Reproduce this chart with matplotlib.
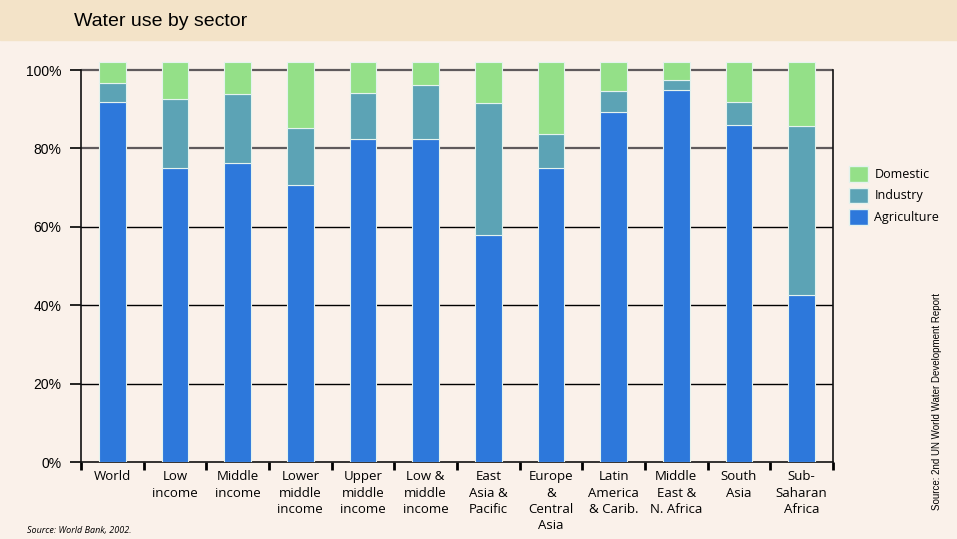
import matplotlib.pyplot as plt
from matplotlib.patches import Patch
import numpy as np

categories = ["World", "Low\nincome", "Middle\nincome", "Lower\nmiddle\nincome",
              "Upper\nmiddle\nincome", "Low &\nmiddle\nincome", "East\nAsia &\nPacific",
              "Europe\n&\nCentral\nAsia", "Latin\nAmerica\n& Carib.", "Middle\nEast &\nN. Africa",
              "South\nAsia", "Sub-\nSaharan\nAfrica"]

# cumulative tops (bars run slightly above 100%)
agriculture = [91.8, 75.0, 76.3, 70.7, 82.4, 82.4, 57.9, 75.0, 89.2, 95.0, 86.0, 42.6]
industry_top = [96.7, 92.5, 93.9, 85.2, 94.2, 96.3, 91.5, 83.8, 94.6, 97.4, 91.8, 85.6]
total_top = [102.0] * 12

industry = [t - a for t, a in zip(industry_top, agriculture)]
domestic = [t - i for t, i in zip(total_top, industry_top)]

c_agr = "#2d78db"
c_ind = "#5ca3b5"
c_dom = "#94e088"
bg = "#faf1ea"
banner = "#f3e3c8"

fig = plt.figure(figsize=(9.57, 5.39), dpi=100, facecolor=bg)
fig.patches.append(plt.Rectangle((0, 1 - 40 / 539), 1, 40 / 539, transform=fig.transFigure,
                                 color=banner, zorder=0))
fig.text(74 / 957, 1 - 21 / 539, "Water use by sector", fontsize=14,
         family="Liberation Sans", va="center", ha="left")

ymax = 102.6
bottom_px, top_px = 462, 462 - ymax * 3.92
ax = fig.add_axes([81 / 957, (539 - bottom_px) / 539, (833 - 81) / 957, (bottom_px - top_px) / 539])
ax.set_facecolor(bg)

x = np.arange(len(categories))
w = 0.43
edge = dict(edgecolor="#e4f3ee", linewidth=0.8, zorder=3)
ax.bar(x, agriculture, w, color=c_agr, **edge)
ax.bar(x, industry, w, bottom=agriculture, color=c_ind, **edge)
ax.bar(x, domestic, w, bottom=industry_top, color=c_dom, **edge)

for yv in [20, 40, 60]:
    ax.axhline(yv, color="black", lw=1.0, zorder=1)
for yv in [80, 100]:
    ax.axhline(yv, color="#5f5a5c", lw=1.6, zorder=1)

ax.set_xlim(-0.5, len(categories) - 0.5)
ax.set_ylim(0, ymax)
ax.spines["top"].set_visible(False)
ax.spines["left"].set_bounds(0, 100)
ax.spines["right"].set_bounds(0, 100)
for s in ["left", "right", "bottom"]:
    ax.spines[s].set_linewidth(1.2)
    ax.spines[s].set_color("#111111")

ax.set_yticks([0, 20, 40, 60, 80, 100])
ax.set_yticklabels(["0%", "20%", "40%", "60%", "80%", "100%"], family="Liberation Sans", fontsize=10)
ax.tick_params(axis="y", length=8, width=1.2, pad=6)

ax.set_xticks(x)
ax.set_xticklabels(categories, family="Open Sans", fontsize=9.5, linespacing=1.32)
ax.set_xticks(np.arange(-0.5, len(categories)), minor=True)
ax.tick_params(axis="x", which="major", length=0, pad=6)
ax.tick_params(axis="x", which="minor", length=6, width=2)

handles = [Patch(facecolor=c_dom, edgecolor="#e4f3ee"), Patch(facecolor=c_ind, edgecolor="#e4f3ee"),
           Patch(facecolor=c_agr, edgecolor="#e4f3ee")]
fig.legend(handles, ["Domestic", "Industry", "Agriculture"], loc="upper left",
           bbox_to_anchor=(838 / 957, 1 - 155 / 539), frameon=False,
           prop={"family": "Open Sans", "size": 9}, handlelength=1.5, handleheight=1.5,
           handletextpad=0.5, labelspacing=0.5)

fig.text(27 / 957, 1 - 531 / 539, "Source: World Bank, 2002.", fontsize=6.5, style="italic",
         family="Open Sans", va="center")
fig.text(937 / 957, 1 - 402 / 539, "Source: 2nd UN World Water Development Report", fontsize=7,
         family="Liberation Sans", rotation=90, va="center", ha="center")

fig.savefig("out.png", dpi=100, facecolor=bg)
